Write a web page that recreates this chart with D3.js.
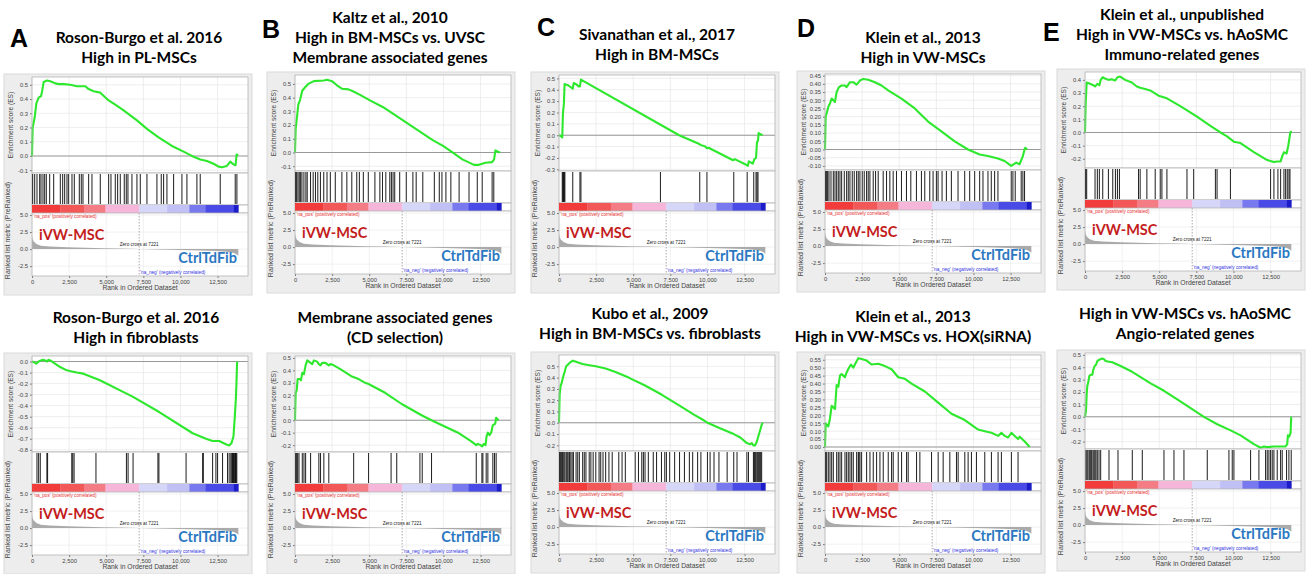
<!DOCTYPE html>
<html>
<head>
<meta charset="utf-8">
<script src="https://cdn.jsdelivr.net/npm/d3@7"></script>
<style>
  body { margin: 0; background: #fff; }
  svg { display: block; }
</style>
</head>
<body>
<svg id="fig" width="1311" height="574"></svg>
<script>
// ---- data ----
// ranked list metric (same ranked list for every panel): [rank, metric]
const rankedMetric = [[0, 2.0], [40, 1.5], [120, 1.1], [300, 0.75], [600, 0.5], [1200, 0.38], [2400, 0.27],
  [3600, 0.19], [4800, 0.13], [6000, 0.07], [7221, 0], [8500, -0.06], [10000, -0.12], [11300, -0.19],
  [12400, -0.28], [13100, -0.4], [13600, -0.58], [13850, -0.85], [13900, -1.05]];
const zeroCross = 7221;
const colorBarEdges = [0, 1900, 3500, 4950, 7221, 9100, 10600, 11700, 13600, 13900];
const colorBarColors = ["#f23c3c", "#f25858", "#f47c84", "#f5b6da", "#d6d6f8", "#c0c0f5", "#7878ef", "#4a4ae6", "#1c1cc8"];
const xTicks = [0, 2500, 5000, 7500, 10000, 12500];
const rankTicks = [5.0, 2.5, 0.0, -2.5];

// panel titles
const titlesTop = [
  ["Roson-Burgo et al. 2016", "High in PL-MSCs"],
  ["Kaltz et al., 2010", "High in BM-MSCs vs. UVSC", "Membrane associated genes"],
  ["Sivanathan et al., 2017", "High in BM-MSCs"],
  ["Klein et al., 2013", "High in VW-MSCs"],
  ["Klein et al., unpublished", "High in VW-MSCs vs. hAoSMC", "Immuno-related genes"]
];
const titlesBottom = [
  ["Roson-Burgo et al. 2016", "High in fibroblasts"],
  ["Membrane associated genes", "(CD selection)"],
  ["Kubo et al., 2009", "High in BM-MSCs vs. fibroblasts"],
  ["Klein et al., 2013", "High in VW-MSCs vs. HOX(siRNA)"],
  ["High in VW-MSCs vs. hAoSMC", "Angio-related genes"]
];
const letters = ["A", "B", "C", "D", "E"];

// enrichment score curves: [rank, ES]
const esA1 = [[0, 0], [45, 0.2], [180, 0.27], [292, 0.37], [449, 0.41], [606, 0.42], [673, 0.45], [785, 0.52], [1010, 0.53],
  [1234, 0.525], [1571, 0.51], [1795, 0.505], [2132, 0.505], [2581, 0.5], [3030, 0.49], [3591, 0.49], [3815, 0.47],
  [4152, 0.455], [4600, 0.445], [5162, 0.39], [5610, 0.36], [6171, 0.32], [7069, 0.25], [7742, 0.19], [8528, 0.13],
  [9425, 0.07], [10211, 0.03], [10772, 0], [11333, -0.025], [11781, -0.035], [12231, -0.055], [12567, -0.075],
  [12792, -0.08], [13129, -0.07], [13353, -0.04], [13578, -0.06], [13712, -0.065], [13780, 0.01], [13892, 0.005]];
const esB1 = [[0, 0], [44, 0.17], [156, 0.28], [222, 0.35], [334, 0.38], [489, 0.45], [712, 0.48], [890, 0.5], [1268, 0.52],
  [1935, 0.525], [2157, 0.53], [2491, 0.52], [2825, 0.49], [3158, 0.465], [3603, 0.46], [3937, 0.445], [4382, 0.42],
  [5049, 0.38], [5939, 0.33], [7051, 0.25], [8163, 0.17], [9275, 0.09], [9942, 0.05], [10610, 0], [11277, -0.05],
  [12055, -0.09], [12389, -0.09], [12834, -0.075], [13279, -0.07], [13412, -0.05], [13501, 0.015], [13679, 0.005], [13812, 0]];
const esC1 = [[0, 0], [154, -0.01], [220, -0.02], [265, 0.19], [331, 0.28], [375, 0.45], [595, 0.44], [816, 0.42], [926, 0.41],
  [992, 0.46], [1146, 0.45], [1323, 0.43], [1411, 0.43], [1477, 0.49], [8091, 0], [9414, -0.075], [9524, -0.085],
  [9854, -0.1], [9965, -0.115], [10075, -0.11], [11728, -0.22], [11838, -0.21], [12610, -0.26], [12721, -0.27],
  [12787, -0.23], [13051, -0.25], [13161, -0.21], [13272, -0.2], [13338, -0.06], [13404, -0.05], [13448, 0.02],
  [13536, 0.01], [13712, 0]];
const esD1 = [[0, 0], [45, 0.2], [112, 0.22], [224, 0.26], [336, 0.28], [448, 0.31], [560, 0.3], [672, 0.29], [784, 0.35],
  [941, 0.38], [1120, 0.39], [1344, 0.39], [1456, 0.38], [1680, 0.41], [1904, 0.41], [2128, 0.395], [2352, 0.42],
  [2576, 0.43], [2912, 0.425], [3360, 0.41], [3808, 0.39], [4256, 0.36], [5152, 0.31], [6048, 0.25], [6944, 0.17],
  [7840, 0.11], [8737, 0.05], [9633, 0], [10417, -0.03], [10977, -0.04], [11649, -0.055], [12097, -0.07],
  [12545, -0.1], [12881, -0.08], [13105, -0.09], [13329, -0.04], [13441, 0], [13486, 0.01], [13620, 0]];
const esE1 = [[0, 0], [45, 0.22], [113, 0.38], [338, 0.37], [563, 0.36], [676, 0.35], [833, 0.37], [968, 0.36], [1059, 0.4],
  [1194, 0.42], [1351, 0.41], [1577, 0.4], [1802, 0.405], [2027, 0.395], [2185, 0.42], [2365, 0.425], [2703, 0.4],
  [3153, 0.38], [3491, 0.35], [3716, 0.34], [4054, 0.33], [4392, 0.32], [4955, 0.28], [5518, 0.26], [6419, 0.2],
  [7545, 0.12], [8446, 0.05], [9122, 0], [9572, -0.03], [10023, -0.07], [10473, -0.08], [11374, -0.15],
  [12275, -0.21], [12725, -0.225], [12950, -0.22], [13176, -0.22], [13288, -0.18], [13401, -0.15], [13581, -0.16],
  [13694, -0.1], [13761, -0.05], [13829, 0], [13870, 0.005], [13900, 0]];
const esA2 = [[0, 0], [112, -0.005], [290, -0.02], [446, 0], [603, 0.01], [737, 0.015], [893, 0.01], [1004, 0], [1116, 0.015],
  [1228, 0.01], [1451, -0.01], [1897, -0.05], [2344, -0.08], [2679, -0.09], [3013, -0.1], [3460, -0.11], [4576, -0.17],
  [6808, -0.32], [8594, -0.46], [10826, -0.65], [11719, -0.7], [12165, -0.72], [12612, -0.72], [13058, -0.75],
  [13281, -0.76], [13438, -0.74], [13571, -0.68], [13661, -0.5], [13728, -0.35], [13772, -0.2], [13817, 0]];
const esB2 = [[0, 0], [45, 0.22], [112, 0.24], [179, 0.33], [313, 0.33], [402, 0.32], [491, 0.38], [603, 0.37], [714, 0.44],
  [826, 0.48], [938, 0.47], [1049, 0.46], [1161, 0.45], [1272, 0.48], [1496, 0.47], [1607, 0.45], [1719, 0.44],
  [1830, 0.46], [2054, 0.46], [2277, 0.44], [2388, 0.45], [2612, 0.44], [3058, 0.41], [3839, 0.35], [4286, 0.33],
  [4732, 0.3], [4955, 0.29], [6071, 0.22], [7188, 0.13], [8080, 0.07], [8527, 0.04], [9196, 0], [10089, -0.05],
  [10982, -0.1], [11875, -0.17], [12210, -0.2], [12321, -0.19], [12500, -0.2], [12612, -0.21], [12723, -0.19],
  [12835, -0.2], [12902, -0.13], [12991, -0.1], [13103, -0.12], [13214, -0.1], [13326, -0.04], [13482, -0.03],
  [13549, 0.02], [13705, 0]];
const esC2 = [[0, 0], [44, 0.25], [111, 0.33], [177, 0.35], [265, 0.4], [376, 0.45], [487, 0.5], [708, 0.53], [929, 0.55],
  [1150, 0.54], [1372, 0.53], [1593, 0.52], [2035, 0.51], [2478, 0.5], [3142, 0.48], [3805, 0.45], [4690, 0.4],
  [5796, 0.33], [6903, 0.25], [8009, 0.16], [9115, 0.07], [9779, 0.02], [10000, 0], [10885, -0.05], [11770, -0.1],
  [12212, -0.13], [12655, -0.18], [12876, -0.19], [12987, -0.18], [13097, -0.2], [13208, -0.2], [13319, -0.17],
  [13429, -0.12], [13540, -0.07], [13650, -0.02], [13717, 0]];
const esD2 = [[0, 0], [45, 0.15], [112, 0.14], [224, 0.13], [336, 0.18], [448, 0.26], [561, 0.25], [673, 0.24], [785, 0.39],
  [897, 0.38], [1009, 0.45], [1121, 0.46], [1233, 0.45], [1345, 0.44], [1457, 0.47], [1614, 0.5], [1749, 0.52],
  [1906, 0.5], [2063, 0.53], [2242, 0.56], [2466, 0.555], [2803, 0.545], [3139, 0.52], [3587, 0.525], [4036, 0.51],
  [4484, 0.49], [4933, 0.44], [5381, 0.43], [5830, 0.4], [6726, 0.35], [7623, 0.28], [8520, 0.21], [9417, 0.17],
  [10314, 0.11], [10762, 0.1], [11211, 0.09], [11659, 0.07], [11883, 0.09], [12108, 0.07], [12332, 0.06],
  [12556, 0.09], [12780, 0.07], [13004, 0.05], [13117, 0.065], [13453, 0.035], [13789, 0]];
const esE2 = [[0, 0], [67, 0.05], [112, 0.18], [157, 0.25], [224, 0.28], [292, 0.33], [382, 0.34], [494, 0.34], [561, 0.38],
  [651, 0.41], [741, 0.42], [830, 0.45], [943, 0.46], [1055, 0.465], [1167, 0.47], [1279, 0.465], [1391, 0.45],
  [1616, 0.445], [1840, 0.44], [2401, 0.41], [3074, 0.37], [3748, 0.32], [4421, 0.27], [5319, 0.21], [6216, 0.14],
  [7114, 0.07], [8012, 0], [8909, -0.06], [9807, -0.11], [10480, -0.15], [11378, -0.22], [11827, -0.25],
  [12051, -0.24], [12276, -0.245], [12725, -0.24], [13174, -0.24], [13510, -0.24], [13622, -0.22], [13667, -0.15],
  [13757, -0.16], [13847, -0.13], [13892, 0]];

// gene-set hit ranks
const hitsA1 = [45, 180, 337, 516, 606, 740, 853, 965, 1190, 1459, 1908, 2065, 2199, 2356, 2469, 2693, 2850, 3187, 3321,
  3434, 3815, 4039, 4600, 5162, 5319, 5610, 5767, 5947, 6216, 6351, 6463, 6732, 7069, 7294, 7742, 8415, 8707, 8864,
  9089, 9538, 10099, 10435, 11108, 11333, 12680, 13690, 13802];
const hitsB1 = [44, 111, 200, 289, 378, 467, 600, 734, 823, 1046, 1224, 1379, 1535, 1713, 1935, 2157, 2380, 2714, 3158,
  3492, 3826, 4159, 4337, 4604, 4938, 5382, 5716, 5894, 6117, 6384, 6495, 6606, 6717, 7051, 7496, 7941, 8163, 8608,
  9386, 9720, 9898, 10165, 10498, 11054, 11722, 12278, 12611, 13279, 13390];
const hitsC1 = [220, 265, 309, 353, 397, 926, 1411, 1477, 6834, 9480, 9965, 11772, 12676, 13117, 13272, 13338, 13404];
const hitsD1 = [45, 112, 179, 269, 403, 560, 672, 784, 896, 1008, 1120, 1299, 1456, 1568, 1680, 1837, 1971, 2128, 2240,
  2352, 2509, 2643, 2800, 2912, 3024, 3248, 3405, 3584, 3920, 4144, 4368, 4592, 4816, 5152, 5488, 5780, 6160, 6496,
  6720, 7056, 7280, 7504, 7616, 7885, 8177, 8513, 8961, 9409, 9745, 10081, 10417, 10641, 10977, 11201, 11425,
  11649, 12545, 12657, 12814, 13217, 13329, 13441];
const hitsE1 = [45, 113, 676, 833, 968, 1194, 1577, 1869, 2050, 2185, 2320, 3604, 3716, 4167, 4730, 5068, 5180, 5518,
  6869, 7320, 8784, 8896, 9797, 12500, 12725, 12995, 13176, 13401, 13514, 13626, 13739, 13806];
const hitsA2 = [335, 446, 558, 1004, 1049, 2679, 2746, 2835, 4308, 6362, 6473, 6808, 8482, 8549, 10379, 11496, 11540,
  12165, 12388, 12500, 12835, 13170, 13281, 13393, 13460, 13504, 13571, 13616, 13661, 13705, 13750, 13795];
const hitsB2 = [45, 112, 179, 268, 491, 603, 714, 1049, 1607, 1719, 1942, 2277, 3951, 4955, 6473, 6853, 8415, 8571, 9196,
  12210, 12589, 12656, 12879, 12991, 13326, 13438, 13549];
const hitsC2 = [44, 88, 155, 221, 265, 332, 398, 487, 553, 619, 708, 796, 885, 973, 1150, 1261, 1372, 1593, 1704, 1814,
  2035, 2146, 2301, 2478, 2699, 2810, 2965, 3142, 3363, 3584, 4027, 4248, 4469, 5133, 5354, 5575, 5686, 5796, 6018,
  6350, 6571, 6903, 7124, 7235, 7456, 7788, 8119, 8451, 8783, 9004, 9336, 9558, 10000, 10177, 10442, 10774, 11327,
  11770, 11991, 12655, 12765, 13097, 13164, 13230, 13319, 13385, 13451, 13518, 13584, 13650];
const hitsD2 = [45, 112, 224, 336, 448, 561, 785, 897, 1009, 1121, 1345, 1457, 1570, 1682, 1794, 1906, 2130, 2242, 2287,
  2354, 2466, 2803, 3027, 3251, 3475, 3700, 3924, 4260, 4484, 4596, 4933, 5157, 5493, 5605, 6166, 6390, 7175, 7623,
  7960, 8408, 8857, 8969, 9417, 9641, 9865, 10202, 10762, 11211, 11659, 11883, 12556, 13004];
const hitsE2 = [67, 135, 202, 292, 382, 449, 539, 606, 673, 741, 830, 943, 1055, 1616, 2222, 3187, 3860, 5319, 5992,
  6665, 8236, 9695, 9919, 10031, 11153, 11714, 12163, 12276, 12388, 12500, 12612, 12725, 12949, 13174, 13286, 13577,
  13734, 13892];

// ES axis ticks
const ticks1 = [-0.1, 0, 0.1, 0.2, 0.3, 0.4, 0.5];
const ticksC1 = [-0.3, -0.2, -0.1, 0, 0.1, 0.2, 0.3, 0.4, 0.5];
const ticksD1 = [-0.1, -0.05, 0, 0.05, 0.1, 0.15, 0.2, 0.25, 0.3, 0.35, 0.4, 0.45];
const ticksE1 = [-0.2, -0.1, 0, 0.1, 0.2, 0.3, 0.4];
const ticksA2 = [-0.8, -0.7, -0.6, -0.5, -0.4, -0.3, -0.2, -0.1, 0];
const ticks2 = [-0.2, -0.1, 0, 0.1, 0.2, 0.3, 0.4, 0.5];
const ticksD2 = [0, 0.05, 0.1, 0.15, 0.2, 0.25, 0.3, 0.35, 0.4, 0.45, 0.5, 0.55];

const panels = [
  { row: 0, col: 0, es: esA1, hits: hitsA1, ticks: ticks1, dom: [-0.12, 0.555], dec: 1 },
  { row: 0, col: 1, es: esB1, hits: hitsB1, ticks: ticks1, dom: [-0.135, 0.565], dec: 1 },
  { row: 0, col: 2, es: esC1, hits: hitsC1, ticks: ticksC1, dom: [-0.315, 0.53], dec: 1 },
  { row: 0, col: 3, es: esD1, hits: hitsD1, ticks: ticksD1, dom: [-0.125, 0.46], dec: 2 },
  { row: 0, col: 4, es: esE1, hits: hitsE1, ticks: ticksE1, dom: [-0.27, 0.46], dec: 1 },
  { row: 1, col: 0, es: esA2, hits: hitsA2, ticks: ticksA2, dom: [-0.82, 0.05], dec: 1 },
  { row: 1, col: 1, es: esB2, hits: hitsB2, ticks: ticks2, dom: [-0.255, 0.515], dec: 1 },
  { row: 1, col: 2, es: esC2, hits: hitsC2, ticks: ticks2, dom: [-0.25, 0.6], dec: 1 },
  { row: 1, col: 3, es: esD2, hits: hitsD2, ticks: ticksD2, dom: [-0.025, 0.58], dec: 2 },
  { row: 1, col: 4, es: esE2, hits: hitsE2, ticks: ticks2, dom: [-0.26, 0.515], dec: 1 }
];

// ---- layout ----
const colX0 = [32, 295, 559, 825, 1085];
const rowTop = [[74, 72, 72, 71, 69], [353, 353, 352, 352, 350]];
const titleCx = [[139, 390, 657, 923, 1182], [136, 395, 650, 913, 1185]];
const titleBase = [[63, 63, 60, 63, 60], [343, 343, 339, 342, 339]];
const letterPos = [[10, 47], [262, 38], [537, 36], [797, 37], [1043, 41]];
const plotW = 216;
const xDomain = [0, 14550];

const svg = d3.select("#fig");
const small = "'Liberation Sans', Arial, sans-serif";
const bold = "Lato, 'Open Sans', sans-serif";

// panel letters
svg.append("g").selectAll("text")
  .data(letters)
  .join("text")
  .attr("x", (d, i) => letterPos[i][0])
  .attr("y", (d, i) => letterPos[i][1])
  .attr("font-family", "'Liberation Sans', Arial, sans-serif")
  .attr("font-weight", "bold")
  .attr("font-size", 25)
  .text(d => d);

panels.forEach(p => drawPanel(p));

function drawPanel(p) {
  const T = rowTop[p.row][p.col];
  const x0 = colX0[p.col];
  const g = svg.append("g");
  const x = d3.scaleLinear().domain(xDomain).range([x0, x0 + plotW]);
  const esTop = T + 3, esBot = T + 99, hitBot = T + 131, cbBot = T + 139, rkBot = T + 202;

  // title
  const lines = (p.row === 0 ? titlesTop : titlesBottom)[p.col];
  g.append("g").selectAll("text")
    .data(lines)
    .join("text")
    .attr("x", titleCx[p.row][p.col])
    .attr("y", (d, i) => titleBase[p.row][p.col] - (lines.length - 1 - i) * 20)
    .attr("text-anchor", "middle")
    .attr("font-family", bold)
    .attr("font-weight", "bold")
    .attr("font-size", 15.5)
    .attr("fill", "#000")
    .text(d => d);

  // outer frame
  g.append("rect")
    .attr("x", x0 - 28).attr("y", T)
    .attr("width", plotW + 32).attr("height", 221)
    .attr("fill", "#ededed").attr("stroke", "#dadada");

  // ---- enrichment score plot ----
  const y = d3.scaleLinear().domain(p.dom).range([esBot, esTop]);
  g.append("rect").attr("x", x0).attr("y", esTop).attr("width", plotW).attr("height", esBot - esTop)
    .attr("fill", "#fff");
  g.append("g").selectAll("line").data(xTicks).join("line")
    .attr("x1", d => x(d)).attr("x2", d => x(d)).attr("y1", esTop).attr("y2", esBot)
    .attr("stroke", "#e6e6e6").attr("stroke-width", 0.7);
  g.append("g").selectAll("line").data(p.ticks).join("line")
    .attr("x1", x0).attr("x2", x0 + plotW).attr("y1", d => y(d)).attr("y2", d => y(d))
    .attr("stroke", "#e6e6e6").attr("stroke-width", 0.7);
  g.append("line").attr("x1", x0).attr("x2", x0 + plotW).attr("y1", y(0)).attr("y2", y(0))
    .attr("stroke", "#999").attr("stroke-width", 1.1);
  g.append("path")
    .datum(p.es)
    .attr("d", d3.line().x(d => x(d[0])).y(d => y(d[1])))
    .attr("fill", "none").attr("stroke", "#2ee82e").attr("stroke-width", 2.1)
    .attr("stroke-linejoin", "round");
  g.append("g")
    .attr("transform", `translate(${x0},0)`)
    .call(d3.axisLeft(y).tickValues(p.ticks).tickFormat(d => d.toFixed(p.dec)).tickSize(2).tickPadding(2))
    .call(a => a.select(".domain").remove())
    .call(a => a.selectAll("text").attr("font-size", 5.8).attr("font-family", small).attr("fill", "#444"))
    .call(a => a.selectAll("line").attr("stroke", "#777"));
  g.append("rect").attr("x", x0).attr("y", esTop).attr("width", plotW).attr("height", esBot - esTop)
    .attr("fill", "none").attr("stroke", "#b5b5b5").attr("stroke-width", 0.8);
  g.append("text")
    .attr("transform", `translate(${x0 - 19},${(esTop + esBot) / 2}) rotate(-90)`)
    .attr("text-anchor", "middle").attr("font-family", small).attr("font-size", 6.6).attr("fill", "#444")
    .text("Enrichment score (ES)");

  // ---- hits ----
  g.append("rect").attr("x", x0).attr("y", esBot).attr("width", plotW).attr("height", hitBot - esBot)
    .attr("fill", "#fff").attr("stroke", "#b5b5b5").attr("stroke-width", 0.8);
  g.append("g").selectAll("line").data(p.hits).join("line")
    .attr("x1", d => x(d)).attr("x2", d => x(d)).attr("y1", esBot + 1).attr("y2", hitBot - 1)
    .attr("stroke", "#000").attr("stroke-width", 1.05).attr("stroke-opacity", 0.85);

  // ---- colour bar ----
  g.append("rect").attr("x", x0).attr("y", hitBot).attr("width", plotW).attr("height", cbBot - hitBot)
    .attr("fill", "#fff").attr("stroke", "#b5b5b5").attr("stroke-width", 0.8);
  g.append("g").selectAll("rect").data(colorBarColors).join("rect")
    .attr("x", (d, i) => x(colorBarEdges[i]))
    .attr("width", (d, i) => x(colorBarEdges[i + 1]) - x(colorBarEdges[i]) + 0.3)
    .attr("y", hitBot).attr("height", cbBot - hitBot)
    .attr("fill", d => d);

  // ---- ranked list metric ----
  const yr = d3.scaleLinear().domain([-3.95, 5.3]).range([rkBot, cbBot]);
  g.append("rect").attr("x", x0).attr("y", cbBot).attr("width", plotW).attr("height", rkBot - cbBot)
    .attr("fill", "#fff");
  g.append("g").selectAll("line").data(xTicks).join("line")
    .attr("x1", d => x(d)).attr("x2", d => x(d)).attr("y1", cbBot).attr("y2", rkBot)
    .attr("stroke", "#ebebeb").attr("stroke-width", 0.7);
  g.append("g").selectAll("line").data(rankTicks).join("line")
    .attr("x1", x0).attr("x2", x0 + plotW).attr("y1", d => yr(d)).attr("y2", d => yr(d))
    .attr("stroke", "#ebebeb").attr("stroke-width", 0.7);
  g.append("path")
    .datum(rankedMetric)
    .attr("d", d3.area().x(d => x(d[0])).y0(yr(0)).y1(d => yr(d[1])))
    .attr("fill", "#aaaaaa");
  g.append("line")
    .attr("x1", x(zeroCross)).attr("x2", x(zeroCross)).attr("y1", cbBot).attr("y2", rkBot)
    .attr("stroke", "#888").attr("stroke-width", 0.7).attr("stroke-dasharray", "1.5,1.5");
  g.append("g")
    .attr("transform", `translate(${x0},0)`)
    .call(d3.axisLeft(yr).tickValues(rankTicks).tickFormat(d => d.toFixed(1)).tickSize(2).tickPadding(2))
    .call(a => a.select(".domain").remove())
    .call(a => a.selectAll("text").attr("font-size", 5.8).attr("font-family", small).attr("fill", "#444"))
    .call(a => a.selectAll("line").attr("stroke", "#777"));
  g.append("g")
    .attr("transform", `translate(0,${rkBot})`)
    .call(d3.axisBottom(x).tickValues(xTicks).tickFormat(d3.format(",")).tickSize(2).tickPadding(1.5))
    .call(a => a.select(".domain").remove())
    .call(a => a.selectAll("text").attr("font-size", 5.8).attr("font-family", small).attr("fill", "#444"))
    .call(a => a.selectAll("line").attr("stroke", "#777"));
  g.append("rect").attr("x", x0).attr("y", cbBot).attr("width", plotW).attr("height", rkBot - cbBot)
    .attr("fill", "none").attr("stroke", "#b5b5b5").attr("stroke-width", 0.8);

  // small annotations
  g.append("text").attr("x", x0 + 1.5).attr("y", cbBot + 4.5)
    .attr("font-family", small).attr("font-size", 4.7).attr("fill", "#e83030")
    .text("'na_pos' (positively correlated)");
  g.append("text").attr("x", x(zeroCross)).attr("y", yr(0) - 3.5)
    .attr("text-anchor", "middle").attr("font-family", small).attr("font-size", 4.7).attr("fill", "#222")
    .text("Zero cross at 7221");
  g.append("text").attr("x", x(zeroCross) + 1).attr("y", rkBot - 2.5)
    .attr("font-family", small).attr("font-size", 4.7).attr("fill", "#3030e0")
    .text("'na_neg' (negatively correlated)");
  g.append("text")
    .attr("transform", `translate(${x0 - 22},${(esBot + rkBot) / 2 + 6}) rotate(-90)`)
    .attr("text-anchor", "middle").attr("font-family", small).attr("font-size", 7).attr("fill", "#444")
    .text("Ranked list metric (PreRanked)");
  g.append("text").attr("x", x0 + plotW / 2).attr("y", rkBot + 14)
    .attr("text-anchor", "middle").attr("font-family", small).attr("font-size", 6.8).attr("fill", "#444")
    .text("Rank in Ordered Dataset");

  // group labels
  g.append("text").attr("x", x0 + 7).attr("y", T + 166)
    .attr("font-family", bold).attr("font-weight", "bold").attr("font-size", 14.5).attr("fill", "#c41c1c")
    .text("iVW-MSC");
  g.append("text").attr("x", x0 + plotW - 11).attr("y", T + 189)
    .attr("text-anchor", "end")
    .attr("font-family", bold).attr("font-weight", "bold").attr("font-size", 14.5).attr("fill", "#2b78c2")
    .text("CtrlTdFib");
}
</script>
</body>
</html>
